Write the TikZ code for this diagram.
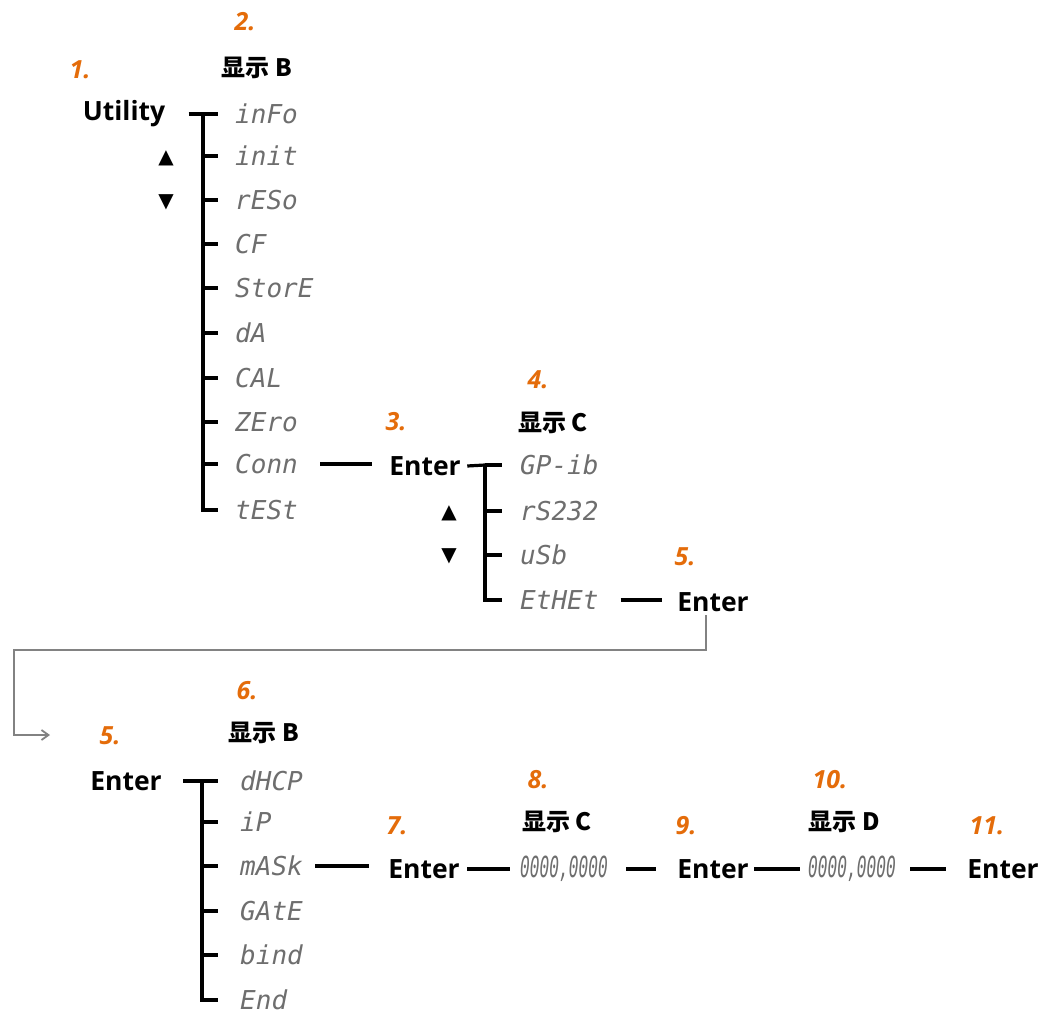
\documentclass[tikz,border=0pt]{standalone}
\usepackage{fontspec}
\setmainfont{Open Sans}
\newfontfamily\cjk{Noto Sans CJK SC}
\newfontfamily\segfont{DejaVu Sans Mono}
\newfontfamily\symfont{DejaVu Sans}
\usetikzlibrary{arrows.meta}
\definecolor{numorange}{RGB}{228,108,10}
\definecolor{seggray}{RGB}{110,110,110}
\definecolor{flowgray}{RGB}{130,130,130}
\tikzset{
  key/.style={font=\bfseries\fontsize{26.5}{30}\selectfont},
  num/.style={font=\bfseries\itshape\fontsize{25}{28}\selectfont,text=numorange},
  disp/.style={font=\cjk\bfseries\fontsize{24}{27}\selectfont},
  seg/.style={font=\segfont\itshape\fontsize{26}{29}\selectfont,text=seggray,anchor=west,inner sep=0pt},
  digits/.style={seg,anchor=center,font=\segfont\itshape\fontsize{29}{32}\selectfont},
  updown/.style={font=\symfont\fontsize{20}{22}\selectfont},
  link/.style={line width=3.2pt},
  flow/.style={line width=2pt,draw=flowgray,-{Straight Barb[length=7pt,width=10pt,line width=1.8pt]}}
}
\begin{document}
\begin{tikzpicture}[x=1pt,y=-1pt]
\useasboundingbox (0,0) rectangle (1043,1014);
% first menu: Utility
\node[num] (n1) at (80,70) {1.}; \node[num] (n2) at (245,22) {2.};
\node[disp] (dispB) at (257,68) {显示 B};
\node[key] (util) at (124,114) {Utility};
\node[updown] (upA) at (166,158) {▲}; \node[updown] (downA) at (166,202) {▼};
\foreach \t/\y [count=\i] in {inFo/114,init/156,rESo/200,CF/244,StorE/288,dA/333,CAL/378,ZEro/422,Conn/464,tESt/510}
  \node[seg] (a\i) at (235,\y) {\t};
\coordinate (trunkA) at (203,0);
\draw[link] ([xshift=20pt]util.east) -- (trunkA |- a1.west);
\foreach \i in {1,...,9} \draw[link] (trunkA |- a\i.west) -- ([xshift=-17pt]a\i.west);
\draw[link] (trunkA |- a1.west) -- (trunkA |- a10.west) -- ([xshift=-17pt]a10.west);
% second menu: interface
\node[num] (n3) at (396,422) {3.}; \node[num] (n4) at (538,380) {4.};
\node[disp] (dispC) at (553,423) {显示 C};
\node[key] (enterA) at (425,466) {Enter};
\draw[link] ([xshift=22pt]a9.east) -- ([xshift=-14pt]enterA.west |- a9.east);
\node[updown] (upB) at (449,513) {▲}; \node[updown] (downB) at (449,556) {▼};
\foreach \t/\y [count=\i] in {GP-ib/465,rS232/511,uSb/555,EtHEt/600}
  \node[seg] (b\i) at (520,\y) {\t};
\coordinate (trunkB) at (485,0);
\draw[link] ([xshift=3pt]enterA.east) -- (trunkB |- b1.west);
\foreach \i in {1,...,3} \draw[link] (trunkB |- b\i.west) -- ([xshift=-18pt]b\i.west);
\draw[link] (trunkB |- b1.west) -- (trunkB |- b4.west) -- ([xshift=-18pt]b4.west);
\node[num] (n5a) at (685,557) {5.};
\node[key] (enterB) at (713,602) {Enter};
\draw[link] ([xshift=22pt]b4.east) -- ([xshift=-12pt]enterB.west |- b4.east);
% jump to next row
\coordinate (bend) at (14,650); \coordinate (flowend) at (50,735);
\draw[flow] ([xshift=-7pt]enterB.south) |- (bend) |- (flowend);
% third menu: ethernet
\node[num] (n5b) at (110,736) {5.}; \node[num] (n6) at (247,691) {6.};
\node[disp] (dispB2) at (264,733) {显示 B};
\node[key] (enterC) at (126,781) {Enter};
\foreach \t/\y [count=\i] in {dHCP/781,iP/822,mASk/866,GAtE/911,bind/955,End/1000}
  \node[seg] (c\i) at (240,\y) {\t};
\coordinate (trunkC) at (202,0);
\draw[link] ([xshift=18pt]enterC.east) -- (trunkC |- c1.west);
\foreach \i in {1,...,5} \draw[link] (trunkC |- c\i.west) -- ([xshift=-22pt]c\i.west);
\draw[link] (trunkC |- c1.west) -- (trunkC |- c6.west) -- ([xshift=-22pt]c6.west);
% address entry
\node[num] (n7) at (397,826) {7.}; \node[num] (n8) at (538,780) {8.};
\node[disp] (dispC2) at (557,822) {显示 C};
\node[key] (enterD) at (424,869) {Enter};
\draw[link] ([xshift=12pt]c3.east) -- ([xshift=-16pt]enterD.west |- c3.east);
\node[digits] (valC) at (564,869) {\scalebox{0.56}[1]{0000,0000}};
\draw[link] ([xshift=4pt]enterD.east) -- ([xshift=-10pt]valC.west);
\node[num] (n9) at (686,826) {9.};
\node[key] (enterE) at (713,869) {Enter};
\draw[link] ([xshift=18pt]valC.east) -- ([xshift=-18pt]enterE.west);
\node[num] (n10) at (830,780) {10.};
\node[disp] (dispD) at (844,822) {显示 D};
\node[digits] (valD) at (852,869) {\scalebox{0.56}[1]{0000,0000}};
\draw[link] ([xshift=2pt]enterE.east) -- ([xshift=-8pt]valD.west);
\node[num] (n11) at (987,826) {11.};
\node[key] (enterF) at (1003,869) {Enter};
\draw[link] ([xshift=14pt]valD.east) -- ([xshift=-18pt]enterF.west);
\end{tikzpicture}
\end{document}
